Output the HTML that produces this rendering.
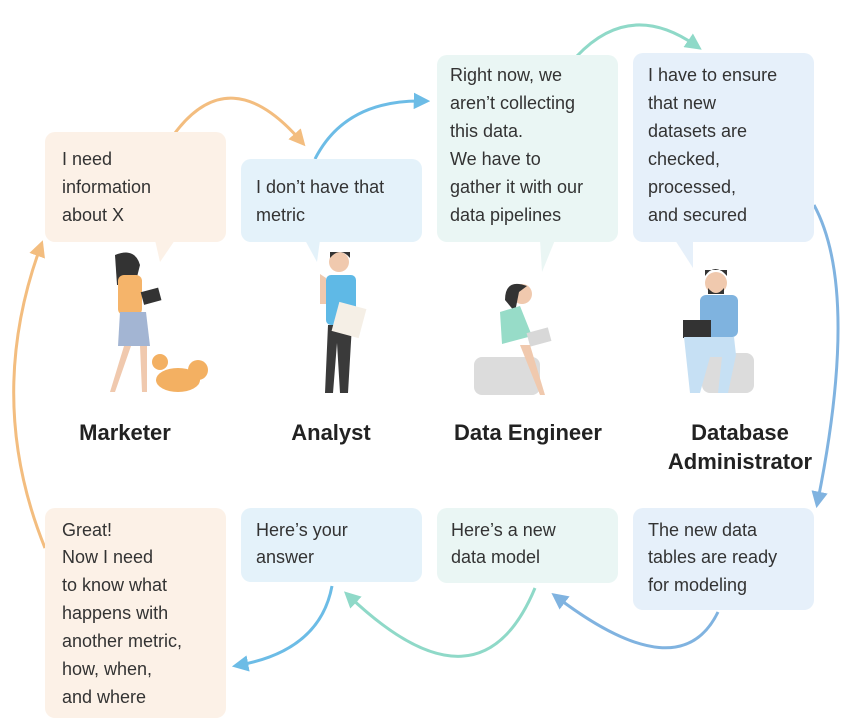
<!DOCTYPE html>
<html><head><meta charset="utf-8"><style>
html,body{margin:0;padding:0;background:#fff;}
svg{display:block;font-family:"Liberation Sans",sans-serif;}
.t{font-size:18px;fill:#333;}
.n{font-size:22px;font-weight:bold;fill:#222;text-anchor:middle;}
</style></head><body>
<svg width="859" height="728" viewBox="0 0 859 728" xmlns="http://www.w3.org/2000/svg">
<defs>
<marker id="mo" viewBox="0 0 8 8" markerWidth="5.5" markerHeight="5.5" refX="4" refY="4" orient="auto" markerUnits="strokeWidth"><path d="M0,0 L8,4 L0,8 z" fill="#f3bd7f"/></marker>
<marker id="mb" viewBox="0 0 8 8" markerWidth="5.5" markerHeight="5.5" refX="4" refY="4" orient="auto" markerUnits="strokeWidth"><path d="M0,0 L8,4 L0,8 z" fill="#6cbce6"/></marker>
<marker id="mt" viewBox="0 0 8 8" markerWidth="5.5" markerHeight="5.5" refX="4" refY="4" orient="auto" markerUnits="strokeWidth"><path d="M0,0 L8,4 L0,8 z" fill="#8fd9c8"/></marker>
<marker id="md" viewBox="0 0 8 8" markerWidth="5.5" markerHeight="5.5" refX="4" refY="4" orient="auto" markerUnits="strokeWidth"><path d="M0,0 L8,4 L0,8 z" fill="#80b3e0"/></marker>
</defs>
<g fill="none" stroke-width="3">
<path d="M175,133 Q230,60 300,140" stroke="#f3bd7f" marker-end="url(#mo)"/>
<path d="M315,159 Q345,100 422,101" stroke="#6cbce6" marker-end="url(#mb)"/>
<path d="M577,56 Q630,0 695,45" stroke="#8fd9c8" marker-end="url(#mt)"/>
<path d="M814,205 Q860,290 818,500" stroke="#80b3e0" marker-end="url(#md)"/>
<path d="M718,612 Q680,690 558,598" stroke="#80b3e0" marker-end="url(#md)"/>
<path d="M535,588 Q480,720 350,597" stroke="#8fd9c8" marker-end="url(#mt)"/>
<path d="M332,586 Q320,650 240,665" stroke="#6cbce6" marker-end="url(#mb)"/>
<path d="M45,548 Q-15,400 40,248" stroke="#f3bd7f" marker-end="url(#mo)"/>
</g>
<rect x="45" y="132" width="181" height="110" rx="10" fill="#fcf1e7"/>
<path d="M155,240 L160,262 L175,240 z" fill="#fcf1e7"/>
<rect x="241" y="159" width="181" height="83" rx="10" fill="#e4f2fa"/>
<path d="M305,240 L317,262 L320,240 z" fill="#e4f2fa"/>
<rect x="437" y="55" width="181" height="187" rx="10" fill="#eaf6f4"/>
<path d="M540,240 L542,272 L555,240 z" fill="#eaf6f4"/>
<rect x="633" y="53" width="181" height="189" rx="10" fill="#e6f0fa"/>
<path d="M675,240 L693,268 L693,240 z" fill="#e6f0fa"/>
<g class="t">
<text x="62" y="165">I need</text><text x="62" y="193">information</text><text x="62" y="221">about X</text>
<text x="256" y="193">I don’t have that</text><text x="256" y="221">metric</text>
<text x="450" y="81">Right now, we</text><text x="450" y="109">aren’t collecting</text><text x="450" y="137">this data.</text><text x="450" y="165">We have to</text><text x="450" y="193">gather it with our</text><text x="450" y="221">data pipelines</text>
<text x="648" y="81">I have to ensure</text><text x="648" y="109">that new</text><text x="648" y="137">datasets are</text><text x="648" y="165">checked,</text><text x="648" y="193">processed,</text><text x="648" y="221">and secured</text>
</g>
<g>
<path d="M115,255 q20,-8 25,10 l-5,20 -18,0 z" fill="#333"/>
<rect x="118" y="275" width="24" height="40" rx="6" fill="#f5b46a"/>
<path d="M120,312 l26,0 4,34 -32,0 z" fill="#a3b5d3"/>
<path d="M124,346 l-14,46 5,0 16,-46 z M140,346 l2,46 5,0 0,-46 z" fill="#f0c9ae"/>
<rect x="142" y="290" width="18" height="13" fill="#333" transform="rotate(-15 150 296)"/>
<ellipse cx="178" cy="380" rx="22" ry="12" fill="#f3b062"/>
<circle cx="198" cy="370" r="10" fill="#f3b062"/><circle cx="160" cy="362" r="8" fill="#f3b062"/>
<circle cx="339" cy="262" r="10" fill="#f0c9ae"/><path d="M330,258 q10,-12 20,0 l0,-6 -20,0z" fill="#333"/>
<rect x="326" y="275" width="30" height="50" rx="5" fill="#5fb9e6"/>
<path d="M328,325 l24,0 -4,68 -8,0 -3,-50 -4,50 -8,0 z" fill="#3a3a3a"/>
<rect x="335" y="305" width="28" height="30" fill="#f5efe6" transform="rotate(15 349 320)"/>
<path d="M320,274 l6,4 0,26 -6,0z" fill="#f0c9ae"/>
<rect x="474" y="357" width="66" height="38" rx="8" fill="#dcdcdc"/>
<circle cx="522" cy="294" r="10" fill="#f0c9ae"/><path d="M505,300 q0,-22 22,-14 l-8,6 -4,20 z" fill="#333"/>
<path d="M500,312 l20,-6 12,30 -30,8 z" fill="#97dcc8"/>
<rect x="528" y="330" width="22" height="14" fill="#d8d8d8" transform="rotate(-15 539 337)"/>
<path d="M520,345 l20,50 5,0 -15,-50 z" fill="#f0c9ae"/>
<rect x="702" y="353" width="52" height="40" rx="8" fill="#dcdcdc"/>
<circle cx="716" cy="283" r="11" fill="#f0c9ae"/><path d="M705,276 q10,-14 22,0 l0,-6 -22,0z" fill="#333"/><path d="M708,288 q8,10 16,0 l0,6 -16,0z" fill="#333"/>
<rect x="700" y="295" width="38" height="42" rx="6" fill="#7fb3df"/>
<rect x="683" y="320" width="28" height="18" fill="#333"/>
<path d="M684,337 l50,0 2,18 -8,38 -10,0 4,-36 -12,0 -10,36 -10,0 z" fill="#c6e0f4"/>
</g>
<g class="n">
<text x="125" y="440">Marketer</text>
<text x="331" y="440">Analyst</text>
<text x="528" y="440">Data Engineer</text>
<text x="740" y="440">Database</text><text x="740" y="469">Administrator</text>
</g>
<rect x="45" y="508" width="181" height="210" rx="10" fill="#fcf1e7"/>
<rect x="241" y="508" width="181" height="74" rx="10" fill="#e4f2fa"/>
<rect x="437" y="508" width="181" height="75" rx="10" fill="#eaf6f4"/>
<rect x="633" y="508" width="181" height="102" rx="10" fill="#e6f0fa"/>
<g class="t">
<text x="62" y="536">Great!</text><text x="62" y="563">Now I need</text><text x="62" y="591">to know what</text><text x="62" y="619">happens with</text><text x="62" y="647">another metric,</text><text x="62" y="675">how, when,</text><text x="62" y="703">and where</text>
<text x="256" y="536">Here’s your</text><text x="256" y="563">answer</text>
<text x="451" y="536">Here’s a new</text><text x="451" y="563">data model</text>
<text x="648" y="536">The new data</text><text x="648" y="563">tables are ready</text><text x="648" y="591">for modeling</text>
</g>
</svg>
</body></html>
